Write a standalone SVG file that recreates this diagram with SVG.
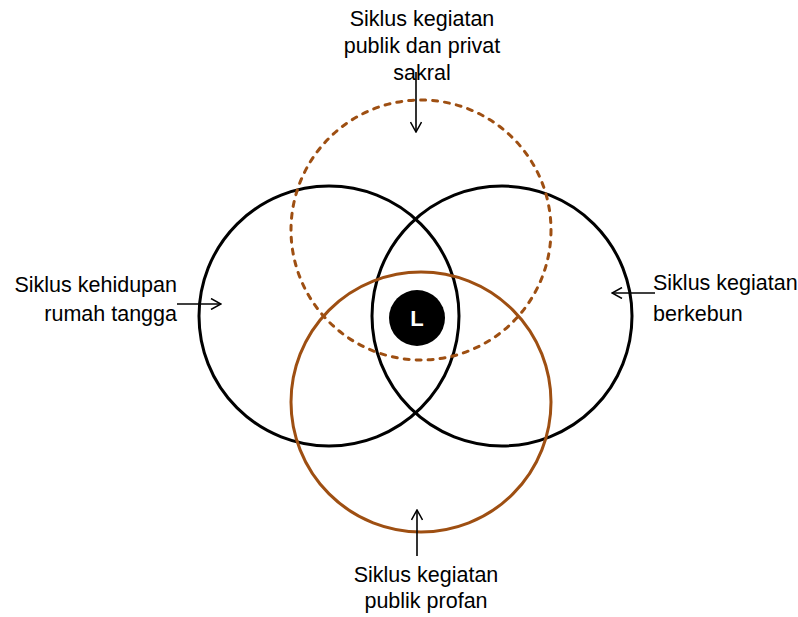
<svg xmlns="http://www.w3.org/2000/svg" width="798" height="617" viewBox="0 0 798 617">
<defs>
<marker id="ah" viewBox="0 0 12 12" refX="11" refY="6" markerWidth="12" markerHeight="12" markerUnits="userSpaceOnUse" orient="auto">
<path d="M1,0.5 L11,6 L1,11.5" fill="none" stroke="#000" stroke-width="1.5"/>
</marker>
</defs>
<style>
.blk{fill:none;stroke:#000;stroke-width:3}
.brn{fill:none;stroke:#9E4F12;stroke-width:3}
.dash{stroke-dasharray:5 7;stroke-linecap:round}
.lbl{font-family:"Liberation Sans",Arial,sans-serif;font-size:21.5px;fill:#000}
.arr{stroke:#000;stroke-width:1.6;fill:none;marker-end:url(#ah)}
</style>
<rect width="798" height="617" fill="#fff"/>
<g id="circle-rumah-tangga"><circle class="blk" cx="329" cy="316" r="130"/></g>
<g id="circle-berkebun"><circle class="blk" cx="502" cy="316" r="130"/></g>
<g id="circle-sakral"><circle class="brn dash" cx="421" cy="230" r="130"/></g>
<g id="circle-profan"><circle class="brn" cx="421" cy="402" r="130"/></g>
<g id="node-L">
<circle cx="417" cy="318" r="28" fill="#000"/>
<text x="417" y="326" text-anchor="middle" font-family="Liberation Sans,Arial,sans-serif" font-size="22" font-weight="bold" fill="#fff">L</text>
</g>
<g id="label-sakral">
<text class="lbl" text-anchor="middle"><tspan x="422" y="26">Siklus kegiatan</tspan><tspan x="422" y="53">publik dan privat</tspan><tspan x="422" y="80">sakral</tspan></text>
</g>
<g id="label-rumah-tangga">
<text class="lbl" text-anchor="end"><tspan x="177" y="292">Siklus kehidupan</tspan><tspan x="177" y="321">rumah tangga</tspan></text>
</g>
<g id="label-berkebun">
<text class="lbl"><tspan x="653" y="290">Siklus kegiatan</tspan><tspan x="653" y="321">berkebun</tspan></text>
</g>
<g id="label-profan">
<text class="lbl" text-anchor="middle"><tspan x="426" y="582">Siklus kegiatan</tspan><tspan x="426" y="608">publik profan</tspan></text>
</g>
<g id="connectors">
<line class="arr" x1="416" y1="72" x2="416" y2="132"/>
<line class="arr" x1="177" y1="304" x2="221" y2="304"/>
<line class="arr" x1="655" y1="293" x2="612" y2="293"/>
<line class="arr" x1="417" y1="556" x2="417" y2="510"/>
</g>
</svg>
